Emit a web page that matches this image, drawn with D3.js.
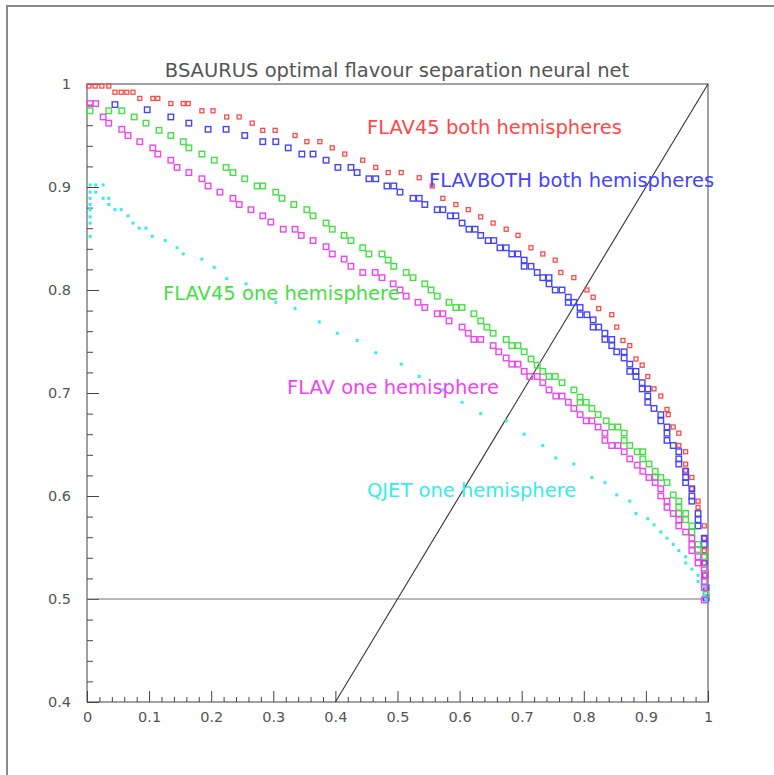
<!DOCTYPE html>
<html><head><meta charset="utf-8">
<script src="https://cdn.jsdelivr.net/npm/d3@7"></script>
<style>body{margin:0;background:#fff}svg{display:block}</style>
</head><body>
<svg id="c" width="774" height="775"></svg>
<script>
const title = "BSAURUS optimal flavour separation neural net";
const xTicks = [0,0.1,0.2,0.3,0.4,0.5,0.6,0.7,0.8,0.9,1];
const yTicks = [0.4,0.5,0.6,0.7,0.8,0.9,1];
const seriesNames = ["FLAV45 both hemispheres","FLAVBOTH both hemispheres","FLAV45 one hemisphere","FLAV one hemisphere","QJET one hemisphere"];
const seriesColors = ["#ff4848","#4444ff","#44e044","#f044f0","#33eeee"];

const flav45Both = [[0.003,0.998],[0.013,0.998],[0.024,0.998],[0.035,0.998],[0.045,0.992],[0.055,0.992],[0.064,0.992],[0.074,0.992],[0.085,0.986],[0.106,0.986],[0.114,0.986],[0.135,0.981],[0.155,0.981],[0.163,0.981],[0.185,0.974],[0.203,0.974],[0.225,0.968],[0.245,0.968],[0.266,0.962],[0.283,0.955],[0.303,0.955],[0.335,0.950],[0.354,0.944],[0.375,0.944],[0.395,0.938],[0.415,0.932],[0.444,0.926],[0.465,0.919],[0.485,0.914],[0.506,0.914],[0.535,0.909],[0.556,0.901],[0.573,0.889],[0.594,0.883],[0.614,0.878],[0.634,0.871],[0.654,0.865],[0.675,0.859],[0.694,0.853],[0.715,0.841],[0.734,0.835],[0.754,0.829],[0.763,0.817],[0.784,0.812],[0.805,0.800],[0.815,0.793],[0.824,0.782],[0.845,0.776],[0.853,0.764],[0.863,0.751],[0.874,0.746],[0.884,0.733],[0.894,0.727],[0.903,0.716],[0.913,0.704],[0.924,0.697],[0.934,0.684],[0.936,0.679],[0.944,0.667],[0.953,0.661],[0.953,0.649],[0.964,0.643],[0.964,0.631],[0.964,0.625],[0.974,0.618],[0.974,0.607],[0.984,0.595],[0.984,0.589],[0.994,0.571],[0.994,0.559],[0.994,0.547],[0.994,0.535],[0.995,0.523],[0.997,0.509]];

const flavBothBoth = [[0.045,0.980],[0.097,0.975],[0.135,0.968],[0.164,0.962],[0.195,0.956],[0.224,0.956],[0.254,0.950],[0.283,0.944],[0.304,0.944],[0.324,0.938],[0.346,0.932],[0.364,0.932],[0.385,0.926],[0.404,0.919],[0.425,0.919],[0.435,0.914],[0.454,0.908],[0.465,0.908],[0.483,0.901],[0.494,0.901],[0.504,0.895],[0.525,0.889],[0.535,0.889],[0.544,0.883],[0.564,0.878],[0.573,0.878],[0.585,0.872],[0.594,0.872],[0.604,0.865],[0.615,0.859],[0.625,0.859],[0.634,0.853],[0.646,0.848],[0.655,0.848],[0.665,0.841],[0.675,0.841],[0.684,0.835],[0.694,0.835],[0.704,0.829],[0.704,0.823],[0.715,0.823],[0.725,0.817],[0.734,0.812],[0.744,0.812],[0.744,0.806],[0.754,0.800],[0.765,0.800],[0.775,0.793],[0.775,0.788],[0.784,0.788],[0.794,0.783],[0.794,0.776],[0.805,0.776],[0.815,0.771],[0.815,0.764],[0.824,0.764],[0.834,0.758],[0.834,0.752],[0.845,0.752],[0.845,0.746],[0.853,0.740],[0.865,0.740],[0.865,0.734],[0.874,0.728],[0.874,0.721],[0.884,0.721],[0.884,0.716],[0.894,0.710],[0.894,0.704],[0.903,0.704],[0.903,0.697],[0.903,0.691],[0.913,0.685],[0.924,0.679],[0.924,0.673],[0.934,0.667],[0.934,0.661],[0.934,0.654],[0.944,0.649],[0.953,0.643],[0.953,0.636],[0.953,0.631],[0.964,0.624],[0.964,0.618],[0.964,0.613],[0.974,0.607],[0.974,0.600],[0.974,0.595],[0.984,0.583],[0.984,0.577],[0.984,0.571],[0.994,0.559],[0.994,0.553],[0.994,0.541],[0.994,0.535],[0.995,0.523],[0.997,0.511],[0.997,0.501]];

const flav45One = [[0.005,0.974],[0.035,0.974],[0.056,0.974],[0.076,0.968],[0.095,0.962],[0.116,0.955],[0.135,0.950],[0.155,0.944],[0.164,0.938],[0.185,0.932],[0.205,0.926],[0.224,0.919],[0.235,0.914],[0.254,0.908],[0.274,0.901],[0.283,0.901],[0.304,0.895],[0.314,0.889],[0.333,0.883],[0.354,0.878],[0.364,0.872],[0.385,0.865],[0.395,0.859],[0.414,0.853],[0.425,0.848],[0.444,0.841],[0.454,0.835],[0.475,0.835],[0.485,0.829],[0.494,0.823],[0.514,0.817],[0.525,0.812],[0.544,0.806],[0.554,0.800],[0.564,0.794],[0.583,0.788],[0.594,0.783],[0.604,0.783],[0.623,0.777],[0.634,0.770],[0.644,0.764],[0.654,0.758],[0.675,0.752],[0.684,0.746],[0.694,0.746],[0.704,0.740],[0.715,0.733],[0.725,0.727],[0.734,0.721],[0.744,0.716],[0.754,0.716],[0.765,0.710],[0.784,0.703],[0.794,0.696],[0.794,0.691],[0.804,0.691],[0.813,0.685],[0.823,0.679],[0.836,0.673],[0.845,0.667],[0.855,0.667],[0.865,0.661],[0.865,0.654],[0.874,0.649],[0.886,0.643],[0.895,0.643],[0.895,0.636],[0.905,0.631],[0.915,0.624],[0.915,0.618],[0.924,0.618],[0.934,0.613],[0.944,0.601],[0.953,0.595],[0.953,0.589],[0.953,0.583],[0.964,0.583],[0.964,0.577],[0.974,0.571],[0.974,0.565],[0.984,0.553],[0.984,0.548],[0.994,0.541],[0.994,0.528],[0.995,0.517],[0.997,0.505]];

const flavOne = [[0.005,0.981],[0.014,0.981],[0.026,0.968],[0.035,0.962],[0.056,0.956],[0.066,0.950],[0.085,0.944],[0.106,0.938],[0.114,0.932],[0.135,0.926],[0.145,0.919],[0.164,0.914],[0.185,0.908],[0.195,0.901],[0.214,0.895],[0.235,0.889],[0.245,0.883],[0.264,0.878],[0.283,0.872],[0.296,0.866],[0.316,0.859],[0.335,0.859],[0.345,0.853],[0.364,0.848],[0.385,0.842],[0.395,0.835],[0.414,0.830],[0.425,0.823],[0.444,0.817],[0.464,0.817],[0.475,0.812],[0.493,0.806],[0.504,0.800],[0.514,0.794],[0.533,0.788],[0.544,0.783],[0.564,0.777],[0.573,0.777],[0.583,0.770],[0.604,0.764],[0.614,0.758],[0.623,0.752],[0.634,0.752],[0.654,0.746],[0.663,0.740],[0.675,0.734],[0.684,0.728],[0.694,0.728],[0.704,0.721],[0.713,0.716],[0.725,0.716],[0.734,0.710],[0.744,0.703],[0.755,0.697],[0.765,0.697],[0.775,0.691],[0.784,0.685],[0.794,0.679],[0.804,0.673],[0.813,0.673],[0.823,0.667],[0.834,0.661],[0.834,0.654],[0.845,0.649],[0.855,0.649],[0.865,0.643],[0.874,0.636],[0.886,0.630],[0.895,0.624],[0.905,0.618],[0.915,0.613],[0.924,0.607],[0.924,0.600],[0.934,0.595],[0.934,0.589],[0.944,0.583],[0.953,0.577],[0.953,0.571],[0.964,0.565],[0.974,0.559],[0.974,0.553],[0.974,0.547],[0.984,0.541],[0.984,0.535],[0.994,0.530],[0.994,0.523],[0.994,0.517],[0.994,0.511],[0.994,0.499]];

const qjetOne = [[0.005,0.902],[0.014,0.902],[0.026,0.902],[0.005,0.895],[0.014,0.895],[0.005,0.889],[0.026,0.889],[0.035,0.889],[0.005,0.883],[0.035,0.883],[0.005,0.878],[0.045,0.878],[0.055,0.878],[0.005,0.871],[0.066,0.872],[0.005,0.865],[0.074,0.865],[0.084,0.860],[0.095,0.860],[0.005,0.852],[0.105,0.852],[0.126,0.848],[0.145,0.841],[0.155,0.835],[0.185,0.830],[0.205,0.822],[0.225,0.811],[0.256,0.806],[0.304,0.788],[0.335,0.782],[0.374,0.769],[0.403,0.758],[0.435,0.751],[0.465,0.739],[0.506,0.728],[0.535,0.716],[0.573,0.703],[0.604,0.691],[0.634,0.680],[0.675,0.673],[0.704,0.660],[0.734,0.649],[0.755,0.637],[0.784,0.631],[0.813,0.618],[0.834,0.613],[0.853,0.601],[0.874,0.595],[0.884,0.583],[0.903,0.578],[0.913,0.572],[0.924,0.565],[0.934,0.559],[0.944,0.553],[0.953,0.547],[0.964,0.541],[0.964,0.535],[0.974,0.529],[0.984,0.523],[0.984,0.517],[0.994,0.512],[0.995,0.504],[0.997,0.499]];

const svg = d3.select("#c");
const L = 87, R = 708, T = 84, B = 702;
const x = d3.scaleLinear().domain([0,1]).range([L,R]);
const y = d3.scaleLinear().domain([0.4,1]).range([B,T]);
const font = "'DejaVu Sans', sans-serif";

// outer page frame
svg.append("rect").attr("x",7).attr("y",6).attr("width",900).attr("height",900)
  .attr("fill","none").attr("stroke","#8a8a8a").attr("stroke-width",2);

// title
svg.append("text").attr("x",397).attr("y",77).attr("text-anchor","middle")
  .attr("font-family",font).attr("font-size",19.5).attr("fill","#555").text(title);

// frame box
svg.append("rect").attr("x",L).attr("y",T).attr("width",R-L).attr("height",B-T)
  .attr("fill","none").attr("stroke","#444").attr("stroke-width",1);

// axes with inward ticks
const xAxis = d3.axisTop(x).tickValues(d3.range(0,1.0001,0.02)).tickSize(5).tickFormat("");
const gx = svg.append("g").attr("transform",`translate(0,${B})`).call(xAxis);
gx.selectAll(".tick line").filter(d => Math.abs(d*10-Math.round(d*10))<1e-6).attr("y2",-11);
gx.select(".domain").remove();
gx.selectAll("line").attr("stroke","#444");
const xLab = d3.axisBottom(x).tickValues(xTicks).tickSize(0).tickPadding(10).tickFormat(d3.format("~g"));
const gxl = svg.append("g").attr("transform",`translate(0,${B})`).call(xLab);
gxl.select(".domain").remove();
gxl.selectAll("text").attr("font-family",font).attr("font-size",14.5).attr("fill","#555");

const yAxis = d3.axisRight(y).tickValues(d3.range(0.4,1.0001,0.02)).tickSize(6).tickFormat("");
const gy = svg.append("g").attr("transform",`translate(${L},0)`).call(yAxis);
gy.selectAll(".tick line").filter(d => Math.abs(d*10-Math.round(d*10))<1e-6).attr("x2",12);
gy.select(".domain").remove();
gy.selectAll("line").attr("stroke","#444");
const yLab = d3.axisLeft(y).tickValues(yTicks).tickSize(0).tickPadding(16).tickFormat(d3.format("~g"));
const gyl = svg.append("g").attr("transform",`translate(${L},0)`).call(yLab);
gyl.select(".domain").remove();
gyl.selectAll("text").attr("font-family",font).attr("font-size",14.5).attr("fill","#555");

// reference lines
svg.append("line").attr("x1",x(0)).attr("x2",x(1)).attr("y1",y(0.5)).attr("y2",y(0.5))
  .attr("stroke","#777").attr("stroke-width",1);
svg.append("line").attr("x1",x(0.4)).attr("y1",y(0.4)).attr("x2",x(1)).attr("y2",y(1))
  .attr("stroke","#333").attr("stroke-width",1.1);

// markers
function openSquares(data, color, size, sw){
  svg.append("g").selectAll("rect").data(data).join("rect")
    .attr("x",d=>x(d[0])-size/2).attr("y",d=>y(d[1])-size/2)
    .attr("width",size).attr("height",size)
    .attr("fill","none").attr("stroke",color).attr("stroke-width",sw);
}
openSquares(flav45Both, seriesColors[0], 4, 1.3);
openSquares(flavBothBoth, seriesColors[1], 5.5, 1.4);
openSquares(flav45One, seriesColors[2], 5.5, 1.4);
openSquares(flavOne, seriesColors[3], 5.5, 1.4);
svg.append("g").selectAll("rect").data(qjetOne).join("rect")
  .attr("x",d=>x(d[0])-1.5).attr("y",d=>y(d[1])-1.5).attr("width",3).attr("height",3)
  .attr("fill",seriesColors[4]);

// labels
const labelPos = [[367,134],[429,187],[163,300],[287,394],[367,497]];
seriesNames.forEach((n,i)=>{
  svg.append("text").attr("x",labelPos[i][0]).attr("y",labelPos[i][1])
    .attr("font-family",font).attr("font-size",19.5).attr("fill",seriesColors[i]).text(n);
});
</script>
</body></html>
